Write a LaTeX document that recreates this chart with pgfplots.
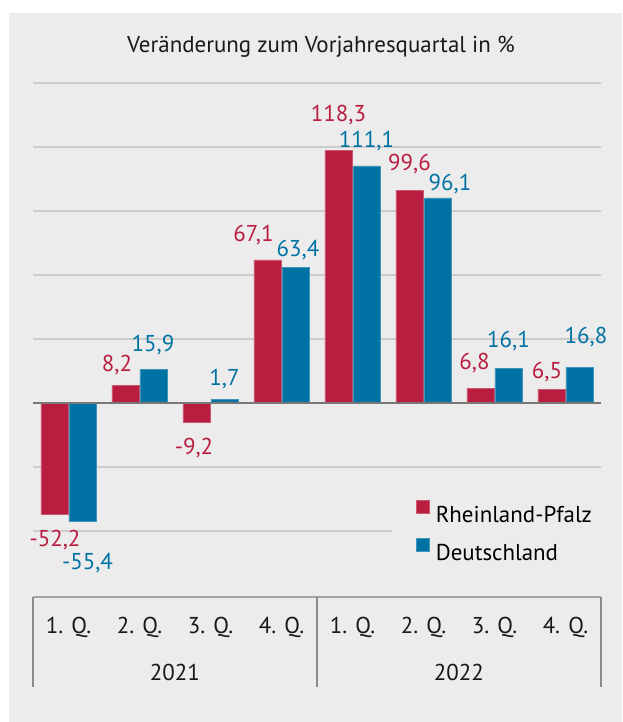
\documentclass[border=0pt]{standalone}
\usepackage{pgfplots}
\pgfplotsset{compat=1.18}
\usepackage{pgfplotstable}
\usepackage{fontspec}
\setmainfont{PT Sans}
\definecolor{bg}{RGB}{236,236,236}
\definecolor{rlp}{RGB}{185,30,64}
\definecolor{de}{RGB}{0,114,163}
\definecolor{gridc}{RGB}{204,204,204}
\definecolor{zeroc}{RGB}{120,120,120}
\definecolor{sepc}{RGB}{140,140,140}
\newcommand{\lab}{\fontsize{17.2pt}{20.5pt}\selectfont}

% x, value, label, dx (px), dy (px)
\pgfplotstableread[col sep=comma]{
x,y,lbl,dx,dy
0,-52.2,{-52,2},0.5,-25.6
1,8.2,{8,2},-8.5,20.7
2,-9.2,{-9,2},-2.5,-25.4
3,67.1,{67,1},-14,25
4,118.3,{118,3},0,35.7
5,99.6,{99,6},0,26.5
6,6.8,{6,8},-6,25.5
7,6.5,{6,5},-4.5,17.4
}\rlptable
\pgfplotstableread[col sep=comma]{
x,y,lbl,dx,dy
0,-55.4,{-55,4},5,-41.5
1,15.9,{15,9},-0.5,24
2,1.7,{1,7},0,20
3,63.4,{63,4},2.5,18
4,111.1,{111,1},0,25
5,96.1,{96,1},12.5,14
6,16.1,{16,1},0,28
7,16.8,{16,8},6.5,30
}\detable

\begin{document}
\begin{tikzpicture}
\useasboundingbox (-24.75pt,-143.25pt) rectangle (441.75pt,398.25pt);
\fill[bg] (-18pt,-143.25pt) rectangle (441.75pt,388.5pt);
\begin{axis}[
  at={(0pt,0pt)}, anchor=south west,
  scale only axis, width=426pt, height=336pt,
  xmin=-0.5, xmax=7.5, ymin=-60, ymax=150,
  axis line style={draw=none},
  major tick length=0pt,
  ytick={-60,-30,30,60,90,120,150},
  yticklabels={},
  ymajorgrids,
  grid style={gridc, line width=1.4pt},
  xtick={0,...,7},
  xticklabels={1. Q.,2. Q.,3. Q.,4. Q.,1. Q.,2. Q.,3. Q.,4. Q.},
  xticklabel style={anchor=center, yshift=-72pt, font=\lab, text=black!90},
  ybar=0.75pt, bar width=20.25pt,
  clip=false,
  point meta=explicit symbolic,
  nodes near coords,
  visualization depends on={\thisrow{dx} \as \dx},
  visualization depends on={\thisrow{dy} \as \dy},
  every node near coord/.append style={anchor=center, font=\lab, xshift={\dx*0.75pt}, yshift={\dy*0.75pt}},
  legend image code/.code={\fill[#1] (0pt,0.6pt) rectangle (9.75pt,10.35pt);},
  legend style={draw=none, fill=bg, at={(0.632,0.0019)}, anchor=west,
    inner xsep=18pt, inner ysep=5pt, row sep=11.75pt, font=\lab,
    nodes={inner sep=0pt, text height=12.5pt, text depth=0pt},
    /tikz/every odd column/.append style={column sep=4.5pt}},
  legend cell align=left,
]
\addplot[fill=rlp, draw=rlp!75!white, line width=0.4pt, every node near coord/.append style={text=rlp}]
  table[x=x, y=y, meta=lbl] {\rlptable};
\addlegendentry{Rheinland-Pfalz}
\addplot[fill=de, draw=de!75!white, line width=0.4pt, every node near coord/.append style={text=de}]
  table[x=x, y=y, meta=lbl] {\detable};
\addlegendentry{Deutschland}
\draw[zeroc, line width=1.5pt] (axis cs:-0.5,0) -- (axis cs:7.5,0);
\node[font=\lab, text=black!90] at (axis cs:1.5,-60) [yshift=-105.75pt] {2021};
\node[font=\lab, text=black!90] at (axis cs:5.5,-60) [yshift=-105.75pt] {2022};
\end{axis}
\draw[gridc!80!black, line width=0.8pt] (0pt,-49.5pt) -- (426pt,-49.5pt);
\draw[sepc, line width=1pt] (0pt,-49.5pt) -- (0pt,-117pt);
\draw[sepc, line width=1pt] (213pt,-49.5pt) -- (213pt,-117pt);
\draw[sepc, line width=1pt] (426pt,-49.5pt) -- (426pt,-117pt);
\node[font=\lab, text=black!90] at (216pt,363pt) {Veränderung zum Vorjahresquartal in \%};
\end{tikzpicture}
\end{document}
